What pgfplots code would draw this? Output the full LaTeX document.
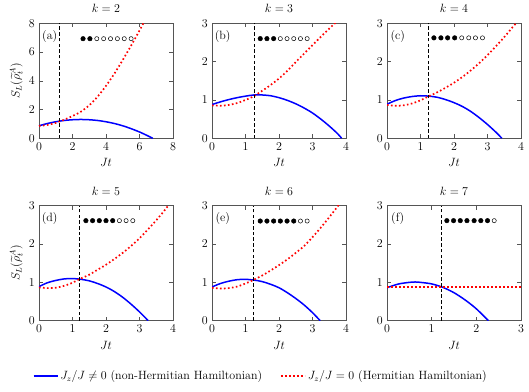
\documentclass[border=0pt,12pt]{standalone}
\usepackage{amsmath}
\usepackage{pgfplots}
\pgfplotsset{compat=1.18}

\definecolor{framegray}{HTML}{555555}

\pgfplotsset{
  panel/.style={
    scale only axis,width=134pt,height=115pt,
    anchor=south west,
    xmin=0,ymin=0,ymax=3,xmax=4,
    xtick={0,1,2,3,4},ytick={0,1,2,3},
    tick pos=both,tick align=inside,
    major tick length=4pt,
    axis line style={framegray,line width=0.7pt},
    every tick/.style={framegray,line width=0.6pt},
    xlabel={$Jt$},
    xlabel style={yshift=0pt},
    ylabel style={yshift=-2pt},
    title style={yshift=0.5pt},
    clip=true,
  },
  nonherm/.style={blue,line width=1.5pt,smooth},
  herm/.style={red,line width=1.7pt,line cap=butt,dash pattern=on 1.6pt off 2.4pt,smooth},
  tline/.style={black,line width=0.9pt,dash pattern=on 3.5pt off 2.2pt,forget plot},
  full/.style={only marks,mark=*,mark size=2.3pt,black,forget plot},
  empty/.style={only marks,mark=o,mark size=2.1pt,black,mark options={line width=0.5pt,fill=white},forget plot},
}

\begin{document}
\begin{tikzpicture}
\useasboundingbox (0pt,0pt) rectangle (529pt,391pt);

% (a) k=2
\begin{axis}[panel,at={(39pt,252.7pt)},
  xmax=8,ymax=8,xtick={0,2,4,6,8},ytick={0,2,4,6,8},
  title={$k=2$},ylabel={$S_L(\widetilde{\rho}^{A}_t)$}]
\addplot[nonherm] coordinates {(0,0.87)(0.5,1.03)(1,1.15)(1.5,1.24)(2,1.29)(2.5,1.31)(3,1.29)(3.5,1.24)(4,1.15)(4.5,1.03)(5,0.87)(5.5,0.67)(6,0.44)(6.5,0.17)(6.79,0)};
\addplot[herm] coordinates {(0,0.86)(0.5,0.93)(1,1.07)(1.24,1.18)(1.5,1.29)(2,1.55)(2.5,1.85)(3,2.3)(3.5,2.9)(4,3.65)(4.5,4.5)(5,5.45)(5.5,6.45)(6,7.5)(6.25,8.05)};
\addplot[tline] coordinates {(1.24,0)(1.24,8)};
\addplot[full] coordinates {(2.63,6.93)(3.04,6.93)};
\addplot[empty] coordinates {(3.45,6.93)(3.86,6.93)(4.27,6.93)(4.68,6.93)(5.09,6.93)(5.50,6.93)};
\node at (rel axis cs:0.08,0.885) {(a)};
\end{axis}

% (b) k=3
\begin{axis}[panel,at={(212pt,252.7pt)},title={$k=3$}]
\addplot[nonherm] coordinates {(0,0.88)(0.25,0.95)(0.5,1.01)(0.75,1.06)(1,1.10)(1.25,1.13)(1.5,1.13)(1.75,1.11)(2,1.06)(2.25,0.99)(2.5,0.90)(2.75,0.79)(3,0.66)(3.25,0.50)(3.5,0.32)(3.75,0.12)(3.87,0)};
\addplot[herm] coordinates {(0,0.86)(0.25,0.85)(0.5,0.87)(0.75,0.92)(1,1.0)(1.25,1.10)(1.5,1.24)(1.75,1.39)(2,1.56)(2.25,1.76)(2.5,1.99)(2.75,2.21)(3,2.43)(3.25,2.65)(3.5,2.86)(3.7,3.03)};
\addplot[tline] coordinates {(1.26,0)(1.26,3)};
\addplot[full] coordinates {(1.44,2.60)(1.64,2.60)(1.84,2.60)};
\addplot[empty] coordinates {(2.04,2.60)(2.24,2.60)(2.44,2.60)(2.64,2.60)(2.84,2.60)};
\node at (rel axis cs:0.08,0.885) {(b)};
\end{axis}

% (c) k=4
\begin{axis}[panel,at={(387pt,252.7pt)},title={$k=4$}]
\addplot[nonherm] coordinates {(0,0.89)(0.25,0.985)(0.5,1.05)(0.75,1.09)(1,1.11)(1.25,1.10)(1.5,1.07)(1.75,1.01)(2,0.93)(2.25,0.83)(2.5,0.70)(2.75,0.54)(3,0.36)(3.25,0.16)(3.43,0)};
\addplot[herm] coordinates {(0,0.87)(0.25,0.85)(0.5,0.86)(0.75,0.91)(1,0.99)(1.23,1.09)(1.5,1.20)(1.75,1.32)(2,1.45)(2.25,1.6)(2.5,1.77)(2.75,1.96)(3,2.17)(3.25,2.4)(3.5,2.64)(3.75,2.9)(3.88,3.03)};
\addplot[tline] coordinates {(1.23,0)(1.23,3)};
\addplot[full] coordinates {(1.40,2.62)(1.61,2.62)(1.81,2.62)(2.02,2.62)};
\addplot[empty] coordinates {(2.23,2.62)(2.44,2.62)(2.64,2.62)(2.85,2.62)};
\node at (rel axis cs:0.08,0.885) {(c)};
\end{axis}

% (d) k=5
\begin{axis}[panel,at={(39pt,70.3pt)},title={$k=5$},ylabel={$S_L(\widetilde{\rho}^{A}_t)$},
  legend columns=2,
  legend style={draw=none,fill=none,at={(-0.07,-0.48)},anchor=west,
    /tikz/every even column/.append style={column sep=16pt}},
  legend image code/.code={\draw[#1,sharp plot] (0pt,0pt) -- (24pt,0pt);}]
\addplot[nonherm] coordinates {(0,0.89)(0.25,0.99)(0.5,1.05)(0.75,1.09)(1,1.10)(1.25,1.08)(1.5,1.04)(1.75,0.97)(2,0.88)(2.25,0.76)(2.5,0.61)(2.75,0.43)(3,0.23)(3.26,0)};
\addplot[herm] coordinates {(0,0.87)(0.25,0.85)(0.5,0.86)(0.75,0.91)(1,0.99)(1.22,1.09)(1.5,1.2)(1.75,1.33)(2,1.46)(2.25,1.61)(2.5,1.77)(2.75,1.95)(3,2.15)(3.25,2.38)(3.5,2.62)(3.75,2.88)(3.88,3.03)};
\addplot[tline] coordinates {(1.22,0)(1.22,3)};
\addplot[full] coordinates {(1.40,2.61)(1.60,2.61)(1.80,2.61)(2.00,2.61)(2.20,2.61)};
\addplot[empty] coordinates {(2.40,2.61)(2.60,2.61)(2.80,2.61)};
\node at (rel axis cs:0.08,0.885) {(d)};
\legend{$J_z/J\neq 0$ (non-Hermitian Hamiltonian),$J_z/J=0$ (Hermitian Hamiltonian)}
\end{axis}

% (e) k=6
\begin{axis}[panel,at={(212pt,70.3pt)},title={$k=6$}]
\addplot[nonherm] coordinates {(0,0.88)(0.25,0.97)(0.5,1.03)(0.75,1.07)(1,1.08)(1.25,1.06)(1.5,1.02)(1.75,0.95)(2,0.86)(2.25,0.73)(2.5,0.58)(2.75,0.41)(3,0.21)(3.23,0)};
\addplot[herm] coordinates {(0,0.86)(0.25,0.84)(0.5,0.85)(0.75,0.89)(1,0.97)(1.25,1.07)(1.5,1.18)(1.75,1.31)(2,1.45)(2.25,1.6)(2.5,1.77)(2.75,1.95)(3,2.18)(3.25,2.43)(3.5,2.7)(3.75,2.98)(3.8,3.04)};
\addplot[tline] coordinates {(1.24,0)(1.24,3)};
\addplot[full] coordinates {(1.44,2.60)(1.64,2.60)(1.84,2.60)(2.04,2.60)(2.24,2.60)(2.44,2.60)};
\addplot[empty] coordinates {(2.64,2.60)(2.84,2.60)};
\node at (rel axis cs:0.08,0.885) {(e)};
\end{axis}

% (f) k=7
\begin{axis}[panel,at={(387pt,70.3pt)},title={$k=7$},xmax=3,xtick={0,1,2,3}]
\addplot[nonherm] coordinates {(0,0.86)(0.25,0.956)(0.5,1.0)(0.63,1.01)(0.75,1.0)(1,0.96)(1.25,0.87)(1.5,0.73)(1.75,0.54)(2,0.31)(2.27,0)};
\addplot[red,line width=1.7pt,line cap=butt,dash pattern=on 1.6pt off 2.4pt] coordinates {(0,0.875)(3,0.875)};
\addplot[tline] coordinates {(1.21,0)(1.21,3)};
\addplot[full] coordinates {(1.34,2.61)(1.49,2.61)(1.64,2.61)(1.79,2.61)(1.95,2.61)(2.10,2.61)(2.25,2.61)};
\addplot[empty] coordinates {(2.40,2.61)};
\node at (rel axis cs:0.08,0.885) {(f)};
\end{axis}
\end{tikzpicture}
\end{document}
